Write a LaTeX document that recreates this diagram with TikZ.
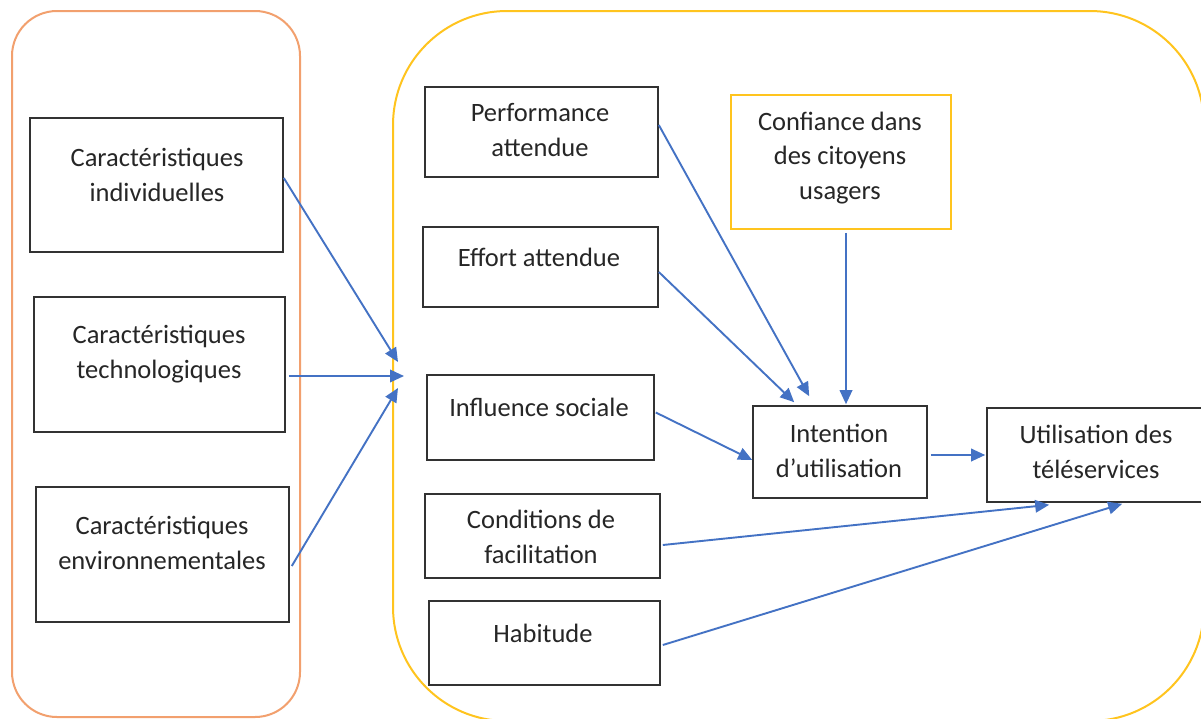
\documentclass[tikz,border=0pt]{standalone}
\usepackage{fontspec}
\setmainfont{Carlito}
\usetikzlibrary{arrows.meta,calc}
\definecolor{arrowblue}{RGB}{68,114,196}
\definecolor{orangeframe}{RGB}{242,160,110}
\definecolor{yellowframe}{RGB}{255,196,30}
\definecolor{boxline}{RGB}{50,50,50}
\definecolor{txtcol}{RGB}{38,38,38}
\tikzset{
  box/.style={draw=boxline, line width=1.6pt, rectangle, inner sep=0pt, fill=white},
  ybox/.style={draw=yellowframe, line width=1.6pt, rectangle, inner sep=0pt, fill=white},
  txt/.style={align=center, text=txtcol, inner sep=0pt, font=\fontsize{26.5}{34.5}\selectfont},
  conn/.style={draw=arrowblue, line width=1.9pt, -{Triangle[length=14pt,width=12.5pt]}},
  frame/.style={line width=2pt, rounded corners=#1},
}
\begin{document}
\begin{tikzpicture}[x=1pt,y=-1pt]
\useasboundingbox (0,0) rectangle (1201,718);
\begin{scope}
\clip (0,0) rectangle (1201,718);
\fill[white] (0,0) rectangle (1201,718);
\draw[frame=45pt, draw=orangeframe] (12,11) rectangle (300,717);
\draw[frame=114pt, draw=yellowframe] (393,11) rectangle (1204,721);

% boxes
\node[box, minimum width=253pt, minimum height=134pt] (indiv) at (156.5,185) {};
\node[box, minimum width=251pt, minimum height=135pt] (techno) at (159.5,364.5) {};
\node[box, minimum width=253pt, minimum height=135pt] (env) at (162.5,554.5) {};
\node[box, minimum width=233pt, minimum height=90pt] (perf) at (541.5,132) {};
\node[box, minimum width=235pt, minimum height=80pt] (effort) at (540.5,267) {};
\node[box, minimum width=227pt, minimum height=85pt] (infl) at (540.5,417.5) {};
\node[box, minimum width=235pt, minimum height=84pt] (cond) at (542.5,536) {};
\node[box, minimum width=231pt, minimum height=84pt] (hab) at (544.5,643) {};
\node[ybox, minimum width=220pt, minimum height=134pt] (conf) at (841,162) {};
\node[box, minimum width=174pt, minimum height=92pt] (int) at (840,452) {};
\node[box, minimum width=223pt, minimum height=94pt] (util) at (1098.5,455) {};

% texts
\node[txt] (indivt) at (157,175) {Caractéristiques\\individuelles};
\node[txt] (technot) at (159,354) {Caractéristiques\\technologiques};
\node[txt] (envt) at (162,543) {Caractéristiques\\environnementales};
\node[txt] (perft) at (540,130) {Performance\\attendue};
\node[txt] (effortt) at (539,257) {Effort attendue};
\node[txt] (inflt) at (539,407) {Influence sociale};
\node[txt] (condt) at (541,537) {Conditions de\\facilitation};
\node[txt] (habt) at (543,633) {Habitude};
\node[txt] (conft) at (840,158) {Confiance dans\\des citoyens\\usagers};
\node[txt] (intt) at (839,451) {Intention\\d’utilisation};
\node[txt] (utilt) at (1096,452) {Utilisation des\\téléservices};

% free ends on the left
\coordinate (c1) at (398,362);
\coordinate (c2) at (404,376);
\coordinate (c3) at (398,388);

% connectors
\draw[conn] ($(indiv.east)+(0,-7)$) -- (c1);
\draw[conn] ($(techno.east)+(3,11.5)$) -- (c2);
\draw[conn] ($(env.east)+(2,11.5)$) -- (c3);
\draw[conn] ($(perf.east)+(0,-7)$) -- ($(int.north west)+(57,-9)$);
\draw[conn] ($(effort.east)+(0,5)$) -- ($(int.north west)+(42,-3)$);
\draw[conn] ($(conf.south)+(5,3)$) -- ($(int.north)+(6,-1)$);
\draw[conn] ($(infl.east)+(1,-5)$) -- ($(int.west)+(0,8)$);
\draw[conn] ($(int.east)+(3,3)$) -- ($(util.west)+(-1,0)$);
\draw[conn] ($(cond.east)+(2,9)$) -- ($(util.south west)+(63,2)$);
\draw[conn] ($(hab.east)+(2,2)$) -- ($(util.south west)+(136,1)$);
\end{scope}
\end{tikzpicture}
\end{document}
